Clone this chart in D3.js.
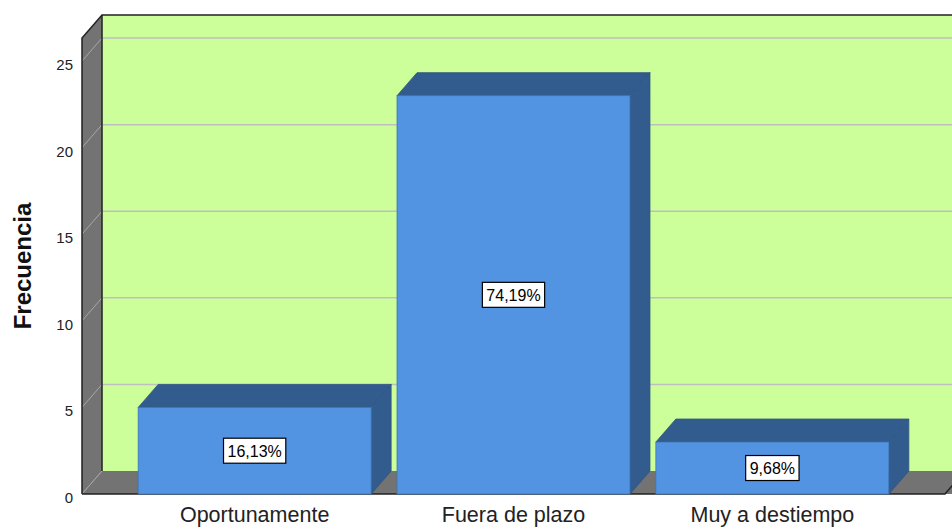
<!DOCTYPE html>
<html>
<head>
<meta charset="utf-8">
<script src="https://cdn.jsdelivr.net/npm/d3@7"></script>
<style>
  body { margin: 0; background: #fff; }
  text { font-family: "Liberation Sans", Arial, sans-serif; }
</style>
</head>
<body>
<svg id="chart" width="952" height="528"></svg>
<script>
// data
var categories = ["Oportunamente", "Fuera de plazo", "Muy a destiempo"];
var counts = [5, 23, 3];
var pctLabels = ["16,13%", "74,19%", "9,68%"];
var yTicks = [0, 5, 10, 15, 20, 25];

var svg = d3.select("#chart");

// 3d depth offset of the box
var dx = 20, dy = -23;

var y = d3.scaleLinear().domain([0, 26.33]).range([494, 38]);
var x = d3.scaleBand()
  .domain(categories)
  .range([82, 945])
  .paddingInner(0.1)
  .paddingOuter(0.217);

var x0 = 82, x1 = 945;
var line = d3.line();

// back wall
svg.append("rect")
  .attr("x", x0 + dx).attr("y", y.range()[1] + dy)
  .attr("width", x1 - x0 + 40).attr("height", y(0) - y.range()[1])
  .attr("fill", "#ccff99");

// left wall
svg.append("path")
  .attr("d", line([[x0, y.range()[1]], [x0 + dx, y.range()[1] + dy], [x0 + dx, y(0) + dy], [x0, y(0)]]) + "Z")
  .attr("fill", "#737373");

// floor
svg.append("path")
  .attr("d", line([[x0, y(0)], [x0 + dx, y(0) + dy], [x1 + dx + 40, y(0) + dy], [x1 + 40, y(0)]]) + "Z")
  .attr("fill", "#737373");

// gridlines: on back wall and across left wall
var grid = svg.append("g").attr("class", "grid");
grid.selectAll(".gb").data(yTicks.filter(d => d > 0)).join("line")
  .attr("x1", x0 + dx).attr("x2", 952)
  .attr("y1", d => y(d) + dy).attr("y2", d => y(d) + dy)
  .attr("stroke", "#bfbfbf").attr("stroke-width", 1.5);
grid.selectAll(".gl").data(yTicks).join("line")
  .attr("x1", x0).attr("x2", x0 + dx)
  .attr("y1", d => y(d)).attr("y2", d => y(d) + dy)
  .attr("stroke", "#a8a8a8").attr("stroke-width", 1);

// box edges
var edges = svg.append("g").attr("fill", "none").attr("stroke", "#222").attr("stroke-width", 1.5);
edges.append("path").attr("d", line([[x0, y(0)], [x0, y.range()[1]], [x0 + dx, y.range()[1] + dy], [952, y.range()[1] + dy]]));
edges.append("path").attr("d", line([[x0 + dx, y.range()[1] + dy], [x0 + dx, y(0) + dy]]));
edges.append("path").attr("d", line([[x0, y(0)], [x1, y(0)], [x1 + dx, y(0) + dy]]));

// 3d bars
var bars = svg.append("g").selectAll("g").data(categories).join("g");
var bw = x.bandwidth();
bars.append("path")
  .attr("d", (d, i) => {
    var l = x(d), t = y(counts[i]);
    return line([[l, t], [l + dx, t + dy], [l + bw + dx, t + dy], [l + bw, t]]) + "Z";
  })
  .attr("fill", "#335c8e").attr("stroke", "#2d5382").attr("stroke-width", 0.8);
bars.append("path")
  .attr("d", (d, i) => {
    var r = x(d) + bw, t = y(counts[i]);
    return line([[r, t], [r + dx, t + dy], [r + dx, y(0) + dy], [r, y(0)]]) + "Z";
  })
  .attr("fill", "#335c8e").attr("stroke", "#2d5382").attr("stroke-width", 0.8);
bars.append("rect")
  .attr("x", d => x(d)).attr("y", (d, i) => y(counts[i]))
  .attr("width", bw).attr("height", (d, i) => y(0) - y(counts[i]))
  .attr("fill", "#5294e2").attr("stroke", "#3d74b8").attr("stroke-width", 0.8);

// percentage labels
bars.each(function(d, i) {
  var g = d3.select(this);
  var cx = x(d) + bw / 2, cy = (y(counts[i]) + y(0)) / 2;
  var t = g.append("text")
    .attr("x", cx).attr("y", cy + 6)
    .attr("text-anchor", "middle")
    .attr("font-size", 16)
    .attr("fill", "#000")
    .text(pctLabels[i]);
  var bb = t.node().getBBox();
  g.insert("rect", "text")
    .attr("x", cx - bb.width / 2 - 4).attr("y", cy - 12.5)
    .attr("width", bb.width + 8).attr("height", 25)
    .attr("fill", "#fff").attr("stroke", "#000").attr("stroke-width", 1.2);
});

// y axis tick labels
svg.append("g").selectAll("text").data(yTicks).join("text")
  .attr("x", 73).attr("y", d => y(d) + 9)
  .attr("text-anchor", "end")
  .attr("font-size", 15)
  .attr("fill", "#222")
  .text(d => d);

// y axis title
svg.append("text")
  .attr("transform", "translate(31,266) rotate(-90)")
  .attr("text-anchor", "middle")
  .attr("font-size", 24).attr("font-weight", "bold")
  .attr("fill", "#111")
  .text("Frecuencia");

// category labels
svg.append("g").selectAll("text").data(categories).join("text")
  .attr("x", d => x(d) + bw / 2).attr("y", 522)
  .attr("text-anchor", "middle")
  .attr("font-size", 21.5)
  .attr("fill", "#222")
  .text(d => d);
</script>
</body>
</html>
